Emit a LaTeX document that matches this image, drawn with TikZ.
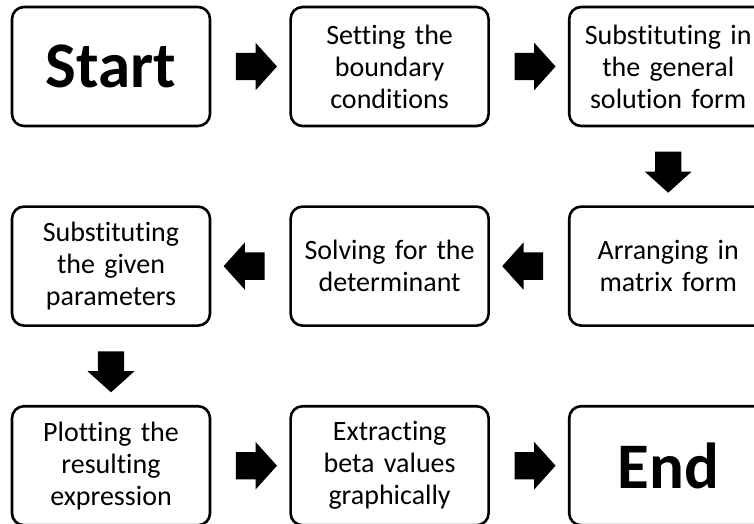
\documentclass[tikz,border=0pt]{standalone}
\usepackage{fontspec}
\setmainfont{Carlito}[Ligatures=NoCommon]
\usetikzlibrary{positioning,shapes.arrows,calc}

\tikzset{
  stepbox/.style={draw,line width=2.6pt,rounded corners=12pt,minimum width=198pt,minimum height=119pt,
    inner sep=3pt,text width=190pt,align=center,font=\fontsize{28}{32}\selectfont},
  bigbox/.style={stepbox,font=\fontsize{65}{70}\selectfont\bfseries},
  blockarrow/.style={single arrow,fill=black,draw=none,inner xsep=0pt,inner ysep=13.5pt,minimum width=47pt,
    minimum height=41pt,single arrow head extend=10pt,single arrow tip angle=96},
  downarrow/.style={blockarrow,inner xsep=12.5pt,inner ysep=0pt,shape border rotate=270}
}

\begin{document}
\begin{tikzpicture}
\useasboundingbox (0,0) rectangle (754pt,-523pt);
% first row
\node[bigbox] (start) at (111pt,-66.5pt) {Start};
\node[stepbox,right=78pt of start] (bound) {Setting the\\boundary\\conditions};
\node[stepbox,right=78pt of bound] (gensol) {Substituting in\\the general\\solution form};
% second row
\node[stepbox,below=78pt of gensol] (matrix) {Arranging in\\matrix form};
\node[stepbox,left=78pt of matrix] (determ) {Solving for the\\determinant};
\node[stepbox,left=78pt of determ] (params) {Substituting\\the given\\parameters};
% third row
\node[stepbox,below=78pt of params] (plot) {Plotting the\\resulting\\expression};
\node[stepbox,right=78pt of plot] (beta) {Extracting\\beta values\\graphically};
\node[bigbox,right=78pt of beta] (end) {End};
% block arrows
\node[blockarrow] (ar1) at ($(start.east)!0.5!(bound.west)$) {};
\node[blockarrow] (ar2) at ($(bound.east)!0.5!(gensol.west)$) {};
\node[downarrow] (ar3) at ($(gensol.south)!0.5!(matrix.north)$) {};
\node[blockarrow,shape border rotate=180] (ar4) at ($(matrix.west)!0.5!(determ.east)$) {};
\node[blockarrow,shape border rotate=180] (ar5) at ($(determ.west)!0.5!(params.east)$) {};
\node[downarrow] (ar6) at ($(params.south)!0.5!(plot.north)$) {};
\node[blockarrow] (ar7) at ($(plot.east)!0.5!(beta.west)$) {};
\node[blockarrow] (ar8) at ($(beta.east)!0.5!(end.west)$) {};
\end{tikzpicture}
\end{document}
